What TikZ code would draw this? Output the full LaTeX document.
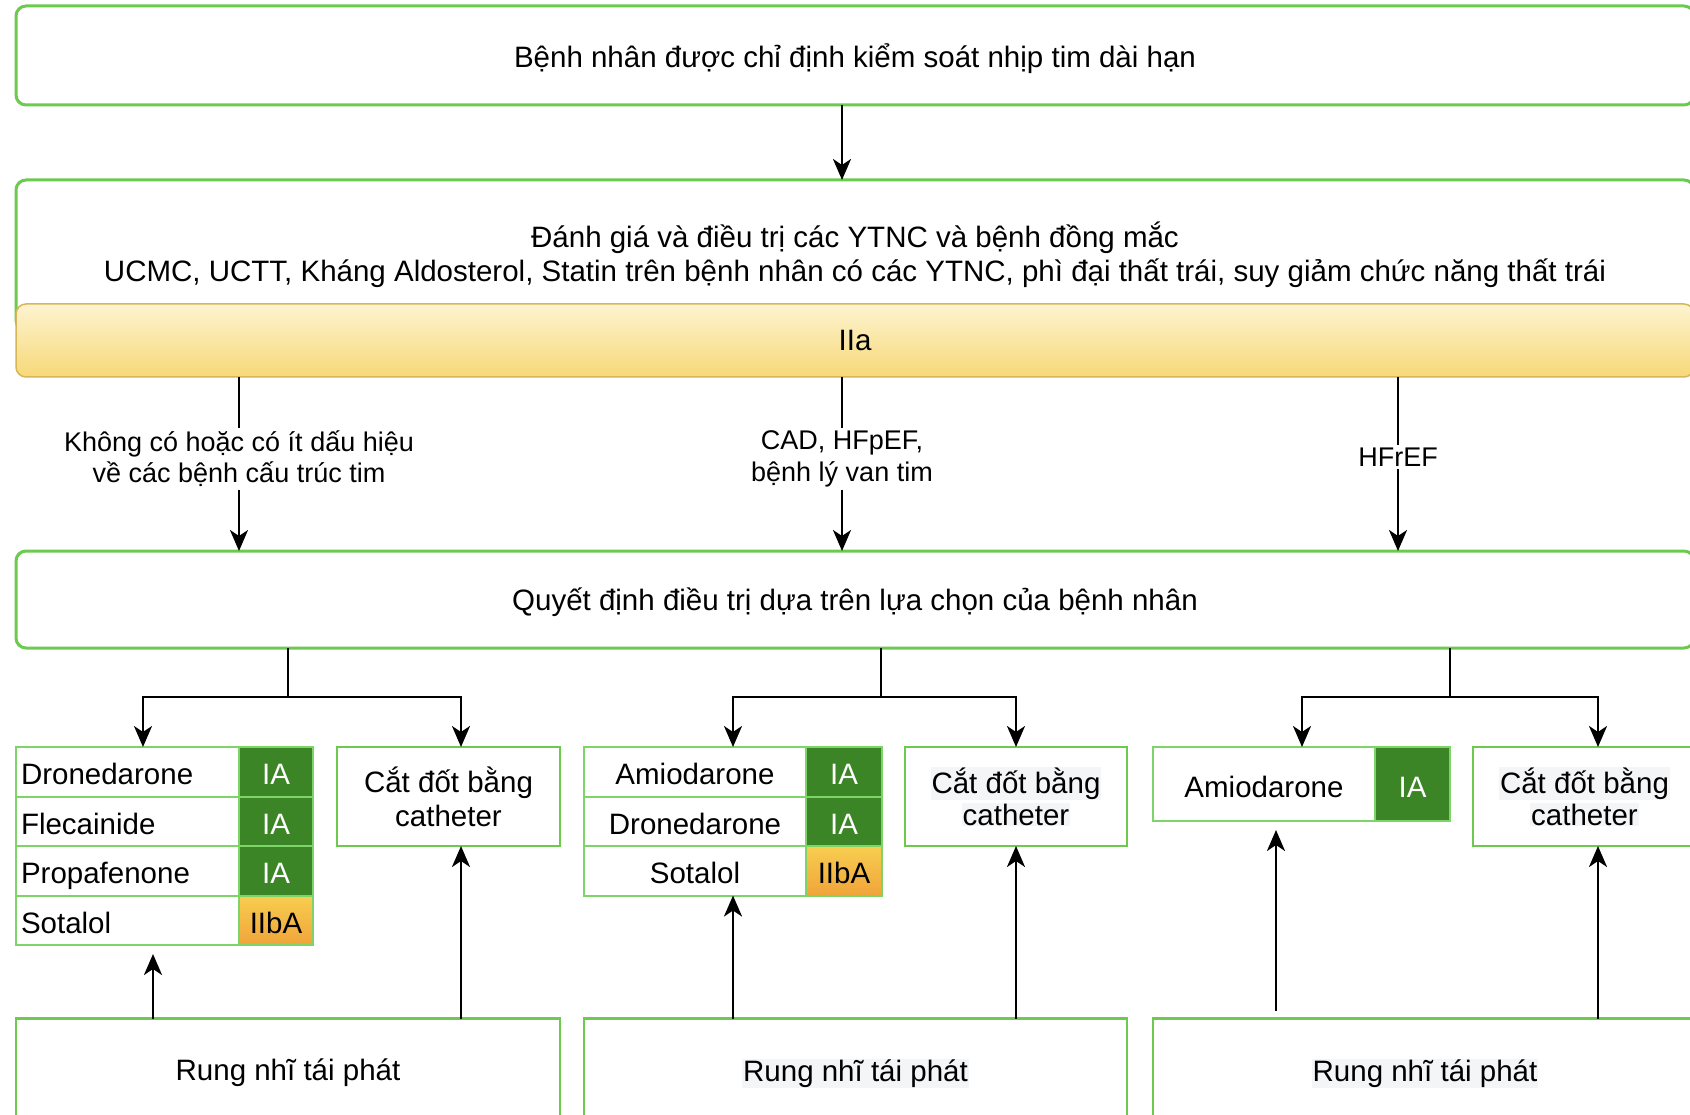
\documentclass[tikz,border=0pt]{standalone}
\usepackage{fontspec}
\setmainfont{Liberation Sans}
\usetikzlibrary{arrows.meta,calc}
\definecolor{gborder}{HTML}{6CCB4F}
\definecolor{cellline}{HTML}{7DD56A}
\definecolor{dgreen}{HTML}{3C8527}
\definecolor{otop}{HTML}{F8CE50}
\definecolor{obot}{HTML}{F0A43A}
\definecolor{ytop}{HTML}{FDF3D0}
\definecolor{ybot}{HTML}{F7D978}
\definecolor{yline}{HTML}{D6B656}
\definecolor{txtbg}{HTML}{F4F5F7}
\setlength{\fboxsep}{1pt}
\begin{document}
\begin{tikzpicture}[x=1pt,y=-1pt,
  every node/.style={font=\fontsize{29.5}{34}\selectfont, inner sep=0pt, outer sep=0pt},
  sl/.style={text depth=0pt},
  cl/.style={text height=26pt, text depth=0pt},
  bigbox/.style={draw=gborder, line width=3pt, rounded corners=10pt, fill=white, anchor=north west, align=center},
  sqbox/.style={draw=gborder, line width=2.5pt, fill=white, anchor=north west, align=center},
  namecell/.style={cl, draw=cellline, line width=2pt, fill=white, anchor=north west, minimum height=49.5pt},
  iacell/.style={cl, draw=cellline, line width=2pt, fill=dgreen, text=white, anchor=north west, minimum height=49.5pt},
  iibcell/.style={cl, draw=cellline, line width=2pt, top color=otop, bottom color=obot, anchor=north west, minimum height=49.5pt},
  arr/.style={line width=2.5pt, -{Stealth[length=21pt,width=18pt,inset=6pt]}},
  lbl/.style={fill=white, font=\fontsize{27}{31.5}\selectfont, align=center, inner sep=3pt},
]
\clip (0,0) rectangle (1690,1115);
\fill[white] (0,0) rectangle (1690,1115);

% x/y markers
\coordinate (xa) at (842,0);
\coordinate (xl) at (239,0);
\coordinate (xr) at (1398,0);
\coordinate (yf) at (0,697);
\coordinate (s1) at (288,0);
\coordinate (s2) at (881,0);
\coordinate (s3) at (1450,0);
\coordinate (a1) at (143,0);
\coordinate (a2) at (461,0);
\coordinate (a3) at (733,0);
\coordinate (a4) at (1016,0);
\coordinate (a5) at (1302,0);
\coordinate (a6) at (1598,0);
\coordinate (u1) at (153,0);
\coordinate (u5) at (1276,0);

% top boxes
\node[bigbox, sl, minimum width=1678pt, minimum height=99pt] (top) at (16,6)
  {Bệnh nhân được chỉ định kiểm soát nhịp tim dài hạn};
\node[bigbox, minimum width=1678pt, minimum height=150pt] (eval) at (16,180)
  {Đánh giá và điều trị các YTNC và bệnh đồng mắc\\UCMC, UCTT, Kháng Aldosterol, Statin trên bệnh nhân có các YTNC, phì đại thất trái, suy giảm chức năng thất trái};
\node[sl, draw=yline, line width=1.5pt, rounded corners=10pt, top color=ytop, bottom color=ybot,
  anchor=north west, minimum width=1678pt, minimum height=73pt] (band) at (16,304) {IIa};
\node[bigbox, sl, minimum width=1678pt, minimum height=97pt] (dec) at (16,551)
  {Quyết định điều trị dựa trên lựa chọn của bệnh nhân};

\draw[arr] (top.south -| xa) -- (eval.north -| xa);
\draw[arr] (band.south -| xl) -- node[lbl, pos=0.47] {Không có hoặc có ít dấu hiệu\\về các bệnh cấu trúc tim} (dec.north -| xl);
\draw[arr] (band.south -| xa) -- node[lbl, pos=0.47] {CAD, HFpEF,\\bệnh lý van tim} (dec.north -| xa);
\draw[arr] (band.south -| xr) -- node[lbl, sl, pos=0.46] {HFrEF} (dec.north -| xr);

% left table
\node[namecell, minimum width=223pt, text width=213pt, align=left] (l1) at (16,747) {Dronedarone};
\node[namecell, minimum width=223pt, text width=213pt, align=left] (l2) at (16,796.5) {Flecainide};
\node[namecell, minimum width=223pt, text width=213pt, align=left] (l3) at (16,846) {Propafenone};
\node[namecell, minimum width=223pt, text width=213pt, align=left] (l4) at (16,895.5) {Sotalol};
\node[iacell, minimum width=74pt] (l1c) at (239,747) {IA};
\node[iacell, minimum width=74pt] (l2c) at (239,796.5) {IA};
\node[iacell, minimum width=74pt] (l3c) at (239,846) {IA};
\node[iibcell, minimum width=74pt] (l4c) at (239,895.5) {IIbA};

% middle table
\node[namecell, minimum width=222pt] (m1) at (584,747) {Amiodarone};
\node[namecell, minimum width=222pt] (m2) at (584,796.5) {Dronedarone};
\node[namecell, minimum width=222pt] (m3) at (584,846) {Sotalol};
\node[iacell, minimum width=76pt] (m1c) at (806,747) {IA};
\node[iacell, minimum width=76pt] (m2c) at (806,796.5) {IA};
\node[iibcell, minimum width=76pt] (m3c) at (806,846) {IIbA};

% right table
\node[namecell, minimum width=222pt, minimum height=74pt] (r1) at (1153,747) {Amiodarone};
\node[iacell, minimum width=75pt, minimum height=74pt] (r1c) at (1375,747) {IA};

% catheter boxes
\node[sqbox, minimum width=223pt, minimum height=99pt] (cat1) at (337,747) {Cắt đốt bằng\\catheter};
\node[sqbox, minimum width=222pt, minimum height=99pt] (cat2) at (905,747)
  {\colorbox{txtbg}{Cắt đốt bằng}\\[-2pt]\colorbox{txtbg}{catheter}};
\node[sqbox, minimum width=223pt, minimum height=99pt] (cat3) at (1473,747)
  {\colorbox{txtbg}{Cắt đốt bằng}\\[-2pt]\colorbox{txtbg}{catheter}};

% bottom boxes
\node[sqbox, sl, minimum width=544pt, minimum height=103pt] (rb1) at (16,1018.5) {Rung nhĩ tái phát};
\node[sqbox, sl, minimum width=543pt, minimum height=103pt] (rb2) at (584,1018.5) {\colorbox{txtbg}{Rung nhĩ tái phát}};
\node[sqbox, sl, minimum width=544pt, minimum height=103pt] (rb3) at (1153,1018.5) {\colorbox{txtbg}{Rung nhĩ tái phát}};

% forks
\draw[arr] (dec.south -| s1) -- (s1 |- yf) -| (l1.north -| a1);
\draw[arr] (s1 |- yf) -| (cat1.north -| a2);
\draw[arr] (dec.south -| s2) -- (s2 |- yf) -| (m1.north -| a3);
\draw[arr] (s2 |- yf) -| (cat2.north -| a4);
\draw[arr] (dec.south -| s3) -- (s3 |- yf) -| (r1.north -| a5);
\draw[arr] (s3 |- yf) -| (cat3.north -| a6);

% upward arrows
\draw[arr, shorten >=9pt] (rb1.north -| u1) -- (l4.south -| u1);
\draw[arr] (rb1.north -| a2) -- (cat1.south -| a2);
\draw[arr] (rb2.north -| a3) -- (m3.south -| a3);
\draw[arr] (rb2.north -| a4) -- (cat2.south -| a4);
\draw[arr, shorten <=7.5pt, shorten >=9pt] (rb3.north -| u5) -- (r1.south -| u5);
\draw[arr] (rb3.north -| a6) -- (cat3.south -| a6);
\end{tikzpicture}
\end{document}
